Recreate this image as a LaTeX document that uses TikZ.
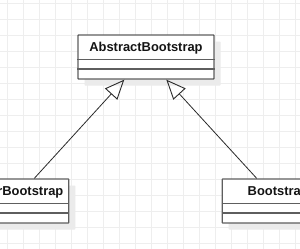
\documentclass[tikz,border=0pt]{standalone}
\usepackage{fontspec}
\setmainfont{Liberation Sans}
\usetikzlibrary{arrows.meta,shadows}
\definecolor{gridc}{HTML}{EEEEEE}
\definecolor{shadowc}{HTML}{EBEBEB}
\definecolor{boxc}{HTML}{5E5E5E}
\definecolor{linec}{HTML}{2A2A2A}
\begin{document}
\begin{tikzpicture}[x=1pt,y=-1pt,
  gridline/.style={draw=gridc,line width=0.9pt},
  classbox/.style={rectangle,draw=boxc,line width=1.3pt,fill=white,inner sep=0pt,
    minimum height=44pt,rounded corners=0.6pt,
    drop shadow={shadow xshift=6.5pt,shadow yshift=-6.5pt,fill=shadowc,opacity=1}},
  classname/.style={font=\bfseries\fontsize{12.9}{15}\selectfont,anchor=base,inner sep=0pt,text=black!92},
  divider/.style={draw=boxc,line width=1.3pt},
  inherit/.style={draw=linec,line width=0.8pt,
    -{Triangle[open,length=19.6pt,width=16.6pt,line width=0.9pt]}}]
\useasboundingbox (0,0) rectangle (300,249);
\clip (0,0) rectangle (300,249);
\fill[white] (0,0) rectangle (300,249);
% grid
\foreach \gx in {7,23,...,295} {\draw[gridline] (\gx,0) -- (\gx,249);}
\foreach \gy in {3,19,...,247} {\draw[gridline] (0,\gy) -- (300,\gy);}
% classes
\node[classbox,minimum width=136pt] (abs) at (146,57) {};
\node[classbox,minimum width=112pt] (sb) at (12.8,201) {};
\node[classbox,minimum width=112pt] (bs) at (278.2,201) {};
\foreach \n in {abs,sb,bs} {
  \draw[divider] ([yshift=-25pt]\n.north west) -- ([yshift=-25pt]\n.north east);
  \draw[divider] ([yshift=-34.7pt]\n.north west) -- ([yshift=-34.7pt]\n.north east);
}
\node[classname] (absname) at ([yshift=-16.8pt]abs.north) {AbstractBootstrap};
\node[classname] (sbname) at ([yshift=-17.5pt]sb.north) {ServerBootstrap};
\node[classname] (bsname) at ([yshift=-17.5pt]bs.north) {Bootstrap};
% inheritance connectors
\coordinate (sbtop) at ([xshift=21.5pt]sb.north);
\coordinate (bstop) at ([xshift=-21.5pt]bs.north);
\coordinate (tipL) at ([xshift=-21.7pt]abs.south);
\coordinate (tipR) at ([xshift=20.3pt]abs.south);
\draw[inherit] (sbtop) -- (tipL);
\draw[inherit] (bstop) -- (tipR);
\end{tikzpicture}
\end{document}
